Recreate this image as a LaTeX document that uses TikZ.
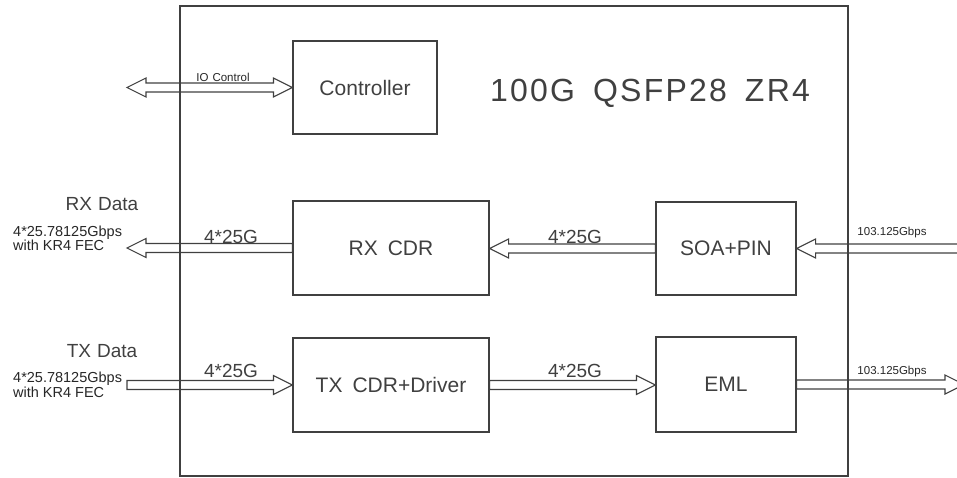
\documentclass[tikz,border=0pt]{standalone}
\usepackage{fontspec}
\setmainfont{Liberation Sans}
\usetikzlibrary{calc}

\definecolor{ink}{HTML}{404040}

\tikzset{
  blk/.style={draw=ink, line width=1.1pt, text=ink, inner sep=0pt,
    minimum width=196pt, minimum height=94pt,
    font=\fontsize{21}{25}\selectfont},
  fat/.style={draw=ink, line width=1.1pt},
  lbl/.style={text=ink, inner sep=0pt},
  biglbl/.style={lbl, font=\fontsize{19}{22}\selectfont},
  smalllbl/.style={lbl, text=black!85, font=\fontsize{11.5}{12}\selectfont},
  ratelbl/.style={lbl, text=black!85, align=left, font=\fontsize{14.5}{13.5}\selectfont},
}

% hollow block arrow, head at #2 (horizontal only)
\newcommand{\fatarrow}[2]{%
  \draw[fat] let \p1=(#1), \p2=(#2), \n1={19*sign(\x2-\x1)} in
    ({\x1},{\y1+4.5pt}) -- ({\x2-(\n1)*1pt},{\y1+4.5pt}) -- ({\x2-(\n1)*1pt},{\y1+9.5pt})
    -- ({\x2},{\y1}) -- ({\x2-(\n1)*1pt},{\y1-9.5pt}) -- ({\x2-(\n1)*1pt},{\y1-4.5pt})
    -- ({\x1},{\y1-4.5pt}) -- cycle;}
% same, heads at both ends
\newcommand{\fatdarrow}[2]{%
  \draw[fat] let \p1=(#1), \p2=(#2), \n1={19*sign(\x2-\x1)} in
    ({\x1},{\y1}) -- ({\x1+(\n1)*1pt},{\y1+9.5pt}) -- ({\x1+(\n1)*1pt},{\y1+4.5pt})
    -- ({\x2-(\n1)*1pt},{\y1+4.5pt}) -- ({\x2-(\n1)*1pt},{\y1+9.5pt})
    -- ({\x2},{\y1}) -- ({\x2-(\n1)*1pt},{\y1-9.5pt}) -- ({\x2-(\n1)*1pt},{\y1-4.5pt})
    -- ({\x1+(\n1)*1pt},{\y1-4.5pt}) -- ({\x1+(\n1)*1pt},{\y1-9.5pt}) -- cycle;}

\begin{document}
\begin{tikzpicture}[x=1pt, y=-1pt]
  \useasboundingbox (0,0) rectangle (957,478);

  % module outline
  \draw[fat] (180,6) rectangle (848,476);
  \node[lbl, font=\fontsize{32}{36}\selectfont\addfontfeature{LetterSpace=7}] (title) at (650,93)
    {100G\hspace{18pt}QSFP28\hspace{18pt}ZR4};

  % blocks
  \node[blk, minimum width=144pt, minimum height=93pt] (ctrl) at (365,87.5) {Controller};
  \node[blk] (rxcdr) at (391,248) {RX\hspace{10pt}CDR};
  \node[blk] (txcdr) at (391,385) {TX\hspace{10pt}CDR+Driver};
  \node[blk, minimum width=140pt, minimum height=93pt] (soa) at (726,248.5) {SOA+PIN};
  \node[blk, minimum width=140pt, minimum height=95pt] (eml) at (726,384.5) {EML};

  % free ends
  \coordinate (io) at (127,87.5);
  \coordinate (rxout) at (127,248);
  \coordinate (txin) at (127,385);
  \coordinate (rxin) at (962,248.5);
  \coordinate (txout) at (964,384.5);

  % arrows
  \fatdarrow{io}{ctrl.west}
  \fatarrow{rxcdr.west}{rxout}
  \fatarrow{soa.west}{rxcdr.east}
  \fatarrow{rxin}{soa.east}
  \fatarrow{txin}{txcdr.west}
  \fatarrow{txcdr.east}{eml.west}
  \fatarrow{eml.east}{txout}

  % labels
  \node[smalllbl] (iolbl) at (223,77) {IO\hspace{4pt}Control};
  \node[biglbl] (rxdata) at (102,204) {RX\hspace{6pt}Data};
  \node[biglbl] (txdata) at (102,351) {TX\hspace{6pt}Data};
  \node[ratelbl, anchor=west] (rxrate) at (13,238.5) {4*25.78125Gbps\\with\hspace{4pt}KR4\hspace{4pt}FEC};
  \node[ratelbl, anchor=west] (txrate) at (13,385) {4*25.78125Gbps\\with\hspace{4pt}KR4\hspace{4pt}FEC};
  \node[biglbl] (rxl) at (231,236.5) {4*25G};
  \node[biglbl] (rxm) at (575,236.5) {4*25G};
  \node[biglbl] (txl) at (231,371) {4*25G};
  \node[biglbl] (txm) at (575,371) {4*25G};
  \node[smalllbl] (rxopt) at (892,233) {103.125Gbps};
  \node[smalllbl] (txopt) at (892,372) {103.125Gbps};
\end{tikzpicture}
\end{document}
